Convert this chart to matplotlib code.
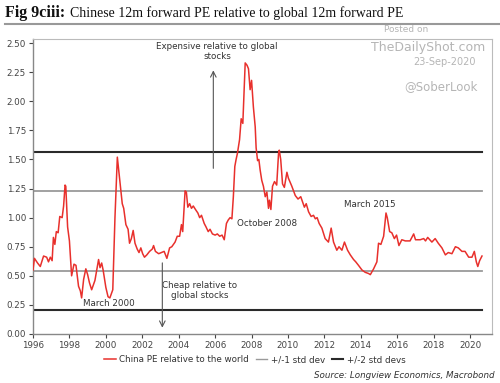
import matplotlib
matplotlib.use('Agg')
import matplotlib.pyplot as plt
from matplotlib.lines import Line2D

# China 12m fwd PE relative to world (decimal year, ratio)
anos = [1996.00, 1996.08, 1996.25, 1996.40, 1996.58, 1996.75, 1996.85, 1996.95,
        1997.05, 1997.12, 1997.20, 1997.28, 1997.38, 1997.47, 1997.60, 1997.68,
        1997.76, 1997.80, 1997.90, 1998.00, 1998.12, 1998.25, 1998.36, 1998.50,
        1998.60, 1998.67, 1998.78, 1998.90, 1999.00, 1999.10, 1999.22, 1999.40,
        1999.60, 1999.68, 1999.77, 1999.85, 2000.00, 2000.12, 2000.22, 2000.38,
        2000.50, 2000.63, 2000.78, 2000.90, 2000.98, 2001.10, 2001.22, 2001.30,
        2001.40, 2001.50, 2001.60, 2001.72, 2001.82, 2001.92, 2002.02, 2002.12,
        2002.25, 2002.40, 2002.55, 2002.62, 2002.72, 2002.90, 2003.05, 2003.20,
        2003.35, 2003.50, 2003.62, 2003.80, 2003.92, 2004.05, 2004.15, 2004.22,
        2004.35, 2004.42, 2004.50, 2004.60, 2004.70, 2004.80, 2004.92, 2005.05,
        2005.15, 2005.25, 2005.40, 2005.50, 2005.62, 2005.72, 2005.85, 2006.00,
        2006.12, 2006.25, 2006.38, 2006.50, 2006.62, 2006.72, 2006.82, 2006.92,
        2007.00, 2007.08, 2007.15, 2007.22, 2007.34, 2007.43, 2007.52, 2007.65,
        2007.75, 2007.83, 2007.92, 2008.00, 2008.10, 2008.20, 2008.25, 2008.33,
        2008.40, 2008.47, 2008.56, 2008.65, 2008.75, 2008.84, 2008.93, 2008.98,
        2009.06, 2009.15, 2009.26, 2009.38, 2009.48, 2009.52, 2009.60, 2009.70,
        2009.80, 2009.94, 2010.02, 2010.21, 2010.40, 2010.55, 2010.70, 2010.90,
        2011.00, 2011.13, 2011.27, 2011.40, 2011.50, 2011.60, 2011.71, 2011.86,
        2012.04, 2012.22, 2012.37, 2012.50, 2012.60, 2012.68, 2012.80, 2012.96,
        2013.10, 2013.27, 2013.42, 2013.60, 2013.72, 2013.87, 2014.06, 2014.24,
        2014.42, 2014.52, 2014.70, 2014.88, 2014.97, 2015.10, 2015.25, 2015.38,
        2015.45, 2015.58, 2015.70, 2015.84, 2015.96, 2016.09, 2016.25, 2016.44,
        2016.70, 2016.90, 2017.00, 2017.26, 2017.45, 2017.55, 2017.67, 2017.90,
        2018.08, 2018.25, 2018.45, 2018.64, 2018.80, 2019.00, 2019.19, 2019.35,
        2019.55, 2019.72, 2019.92, 2020.10, 2020.23, 2020.34, 2020.42, 2020.52,
        2020.65]
pe_rel = [0.55, 0.65, 0.61, 0.58, 0.67, 0.66, 0.62, 0.66,
          0.63, 0.83, 0.77, 0.88, 0.87, 1.01, 1.00, 1.10,
          1.28, 1.27, 0.92, 0.80, 0.50, 0.60, 0.59, 0.41,
          0.37, 0.31, 0.47, 0.56, 0.51, 0.44, 0.38, 0.46,
          0.64, 0.57, 0.61, 0.55, 0.40, 0.32, 0.31, 0.38,
          1.00, 1.52, 1.30, 1.12, 1.08, 0.94, 0.90, 0.78,
          0.82, 0.89, 0.78, 0.73, 0.70, 0.74, 0.69, 0.66,
          0.68, 0.71, 0.73, 0.76, 0.71, 0.69, 0.70, 0.71,
          0.65, 0.74, 0.75, 0.79, 0.84, 0.84, 0.94, 0.88,
          1.23, 1.22, 1.09, 1.12, 1.08, 1.10, 1.07, 1.04,
          1.00, 1.02, 0.95, 0.92, 0.88, 0.90, 0.86, 0.85,
          0.86, 0.84, 0.85, 0.81, 0.95, 0.98, 1.00, 0.99,
          1.18, 1.44, 1.50, 1.55, 1.67, 1.85, 1.81, 2.33,
          2.31, 2.28, 2.10, 2.18, 1.95, 1.78, 1.60, 1.49,
          1.50, 1.41, 1.32, 1.27, 1.18, 1.22, 1.08, 1.15,
          1.07, 1.27, 1.31, 1.28, 1.55, 1.58, 1.50, 1.29,
          1.26, 1.39, 1.34, 1.27, 1.19, 1.16, 1.18, 1.09,
          1.12, 1.05, 1.01, 1.02, 0.99, 1.00, 0.95, 0.91,
          0.82, 0.79, 0.91, 0.79, 0.75, 0.72, 0.75, 0.72,
          0.79, 0.72, 0.68, 0.64, 0.62, 0.59, 0.55, 0.53,
          0.52, 0.51, 0.56, 0.62, 0.78, 0.77, 0.84, 1.04,
          1.00, 0.88, 0.87, 0.82, 0.85, 0.76, 0.81, 0.80,
          0.80, 0.86, 0.81, 0.81, 0.82, 0.80, 0.83, 0.79,
          0.82, 0.78, 0.74, 0.68, 0.70, 0.69, 0.75, 0.74,
          0.71, 0.71, 0.66, 0.66, 0.71, 0.62, 0.58, 0.63,
          0.67]

# desvios padrao
std1 = [1.23, 0.54]
std2 = [1.565, 0.21]

anos_ticks = list(range(1996, 2021, 2))
y_ticks = [0.0, 0.25, 0.5, 0.75, 1.0, 1.25, 1.5, 1.75, 2.0, 2.25, 2.5]

vermelho = '#e8302c'
cinza = '#9a9a9a'
escuro = '#2a2a2a'
texto = '#333333'

fig = plt.figure(figsize=(5, 3.83), dpi=100)
ax = fig.add_axes([0.066, 0.128, 0.918, 0.77])

x_fim = anos[-1]
for v in std1:
    ax.plot([1996, x_fim], [v, v], color=cinza, lw=1.3, zorder=1)
for v in std2:
    ax.plot([1996, x_fim], [v, v], color=escuro, lw=1.5, zorder=1)
ax.plot(anos, pe_rel, color=vermelho, lw=1.1, zorder=3)

ax.set_xlim(1996, 2021.2)
ax.set_ylim(0, 2.535)
ax.set_xticks(anos_ticks)
ax.set_yticks(y_ticks)
ax.set_yticklabels([f'{v:.2f}' for v in y_ticks])
ax.tick_params(labelsize=6.3, colors='#444444', length=3, width=0.8, pad=2)
for s in ['left', 'bottom']:
    ax.spines[s].set_color('#888888')
    ax.spines[s].set_linewidth(1.0)
for s in ['top', 'right']:
    ax.spines[s].set_color('#bbbbbb')
    ax.spines[s].set_linewidth(0.8)

# anotacoes
ax.text(2006.1, 2.43, 'Expensive relative to global\nstocks', ha='center', va='center',
        fontsize=6.3, color=texto, linespacing=1.1)
ax.annotate('', xy=(2005.9, 2.29), xytext=(2005.9, 1.40),
            arrowprops=dict(arrowstyle='->', color='#555555', lw=0.8))
ax.text(2005.15, 0.374, 'Cheap relative to\nglobal stocks', ha='center', va='center',
        fontsize=6.3, color=texto, linespacing=1.1)
ax.annotate('', xy=(2003.1, 0.03), xytext=(2003.1, 0.635),
            arrowprops=dict(arrowstyle='->', color='#555555', lw=0.8))
ax.text(2000.17, 0.26, 'March 2000', ha='center', va='center', fontsize=6.3, color=texto)
ax.text(2008.86, 0.95, 'October 2008', ha='center', va='center', fontsize=6.3, color=texto)
ax.text(2014.5, 1.11, 'March 2015', ha='center', va='center', fontsize=6.3, color=texto)

# titulo
fig.text(0.01, 1 - 17 / 383, 'Fig 9ciii:', fontsize=11.5, fontweight='bold',
         family='Liberation Serif', color='#111111', va='baseline')
fig.text(0.14, 1 - 17 / 383, 'Chinese 12m forward PE relative to global 12m forward PE',
         fontsize=10, family='Liberation Serif', color='#111111', va='baseline')
fig.add_artist(Line2D([0.01, 1.0], [1 - 24 / 383, 1 - 24 / 383], color='#999999', lw=1.5))

# marca d'agua
wm = '#b5b5b5'
fig.text(406 / 500, 1 - 30 / 383, 'Posted on', fontsize=6.5, color=wm, ha='center', va='center')
fig.text(428 / 500, 1 - 47 / 383, 'TheDailyShot.com', fontsize=9, color=wm, ha='center', va='center')
fig.text(476 / 500, 1 - 62 / 383, '23-Sep-2020', fontsize=7, color=wm, ha='right', va='center')
fig.text(478 / 500, 1 - 87 / 383, '@SoberLook', fontsize=8.5, color=wm, ha='right', va='center')

# legenda
handles = [Line2D([], [], color=vermelho, lw=1.1),
           Line2D([], [], color=cinza, lw=1.0),
           Line2D([], [], color=escuro, lw=1.5)]
labels = ['China PE relative to the world', '+/-1 std dev', '+/-2 std devs']
fig.legend(handles, labels, loc='center', bbox_to_anchor=(0.51, 1 - 360 / 383), ncol=3,
           frameon=False, fontsize=6.3, handlelength=1.3, handletextpad=0.4,
           columnspacing=0.8, labelcolor='#333333')

fig.text(0.99, 1 - 376 / 383, 'Source: Longview Economics, Macrobond', fontsize=6.3,
         style='italic', color='#333333', ha='right', va='center')

plt.savefig('out.png', dpi=100)
